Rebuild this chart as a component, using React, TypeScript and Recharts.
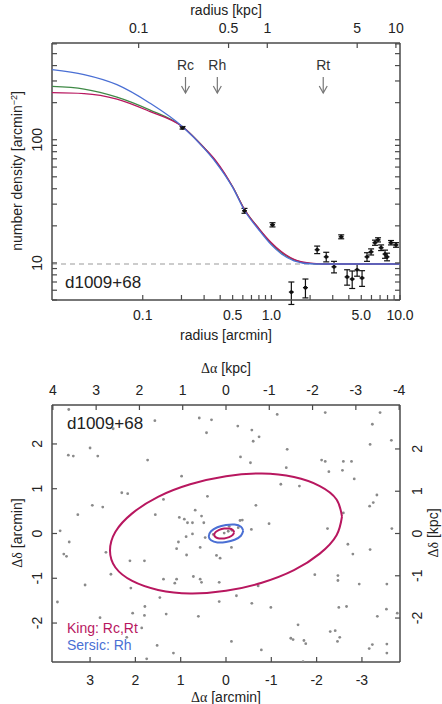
import React from 'react';
import { ComposedChart, Scatter, XAxis, YAxis, ErrorBar, ReferenceLine } from 'recharts';

const FONT = '"Liberation Sans", Arial, sans-serif';
const SERIF = '"Liberation Serif", "DejaVu Serif", serif';
const KING = '#b8175f';
const SERSIC = '#4a6fd4';
const EXPO = '#3f8a46';
const FRAME = '#4a4a4a';

// ---- radial profile (top panel), radius in arcmin ----
const profileRadius = [0.204, 0.618, 1.02, 1.43, 1.84, 2.27, 2.67, 3.07, 3.49, 3.88, 4.25, 4.64, 5.07, 5.54, 5.96, 6.39, 6.75, 7.13, 7.65, 7.93, 8.51, 9.31];
const profileDensity = [125, 26.5, 20.4, 5.8, 6.3, 12.8, 11.2, 9.3, 16.3, 7.7, 7.4, 8.8, 7.55, 11.2, 12.3, 14.6, 15.4, 13.3, 11.8, 11.2, 14.6, 14.0];
const profileError = [3, 1.2, 0.8, 1.2, 1.1, 0.9, 1.0, 1.0, 0.6, 1.1, 1.2, 1.0, 1.1, 0.9, 0.7, 0.7, 0.6, 0.7, 0.9, 0.8, 0.6, 0.6];

const modelRadius = [0.0197, 0.035, 0.063, 0.113, 0.205, 0.3, 0.372, 0.5, 0.62, 0.8, 1.0, 1.2, 1.5, 2.0, 2.5, 3.5, 5, 10];
const kingFit = [241, 237, 214, 170, 127, 86, 67, 41.5, 27, 19, 14.6, 12.3, 10.7, 9.95, 9.8, 9.8, 9.8, 9.8];
const expoFit = [271, 258, 222, 175, 127, 86, 66, 41.5, 27, 19, 14.3, 12.1, 10.6, 9.9, 9.8, 9.8, 9.8, 9.8];
const sersicFit = [371, 338, 280, 199, 127, 85, 65, 41, 26.5, 18.5, 14, 11.8, 10.4, 9.85, 9.8, 9.8, 9.8, 9.8];
const backgroundLevel = 9.8;

const markerNames = ['Rc', 'Rh', 'Rt'];
const markerRadius = [0.215, 0.38, 2.53];

const radiusDomain = [0.0197, 10];
const radiusKpcDomain = [0.0212, 10.76];
const densityDomain = [5, 610];

const radiusTicks = [0.1, 0.2, 0.3, 0.4, 0.5, 0.6, 0.7, 0.8, 0.9, 1, 2, 3, 4, 5, 6, 7, 8, 9, 10];
const radiusLabelAt = [0.1, 0.5, 1, 5, 10];
const radiusLabels = ['0.1', '0.5', '1.0', '5.0', '10.0'];
const kpcTicks = [0.1, 0.5, 1, 5, 10];
const kpcLabels = ['0.1', '0.5', '1', '5', '10'];
const densityTicks = [5, 6, 7, 8, 9, 10, 20, 30, 40, 50, 60, 70, 80, 90, 100, 200, 300, 400, 500, 600];
const densityLabelAt = [10, 100];
const densityLabels = ['10', '100'];

// ---- sky map (bottom panel), offsets in arcmin ----
const stars: number[][] = [
  [3.47, 2.77], [1.57, 2.52], [0.59, 2.58], [0.32, 2.54], [0.43, 2.25], [2.49, 2.34], [3.0, 1.91], [3.48, 1.75],
  [3.37, 1.73], [2.83, 1.73], [1.73, 1.64], [0.98, 1.28], [2.3, 0.91], [2.17, 0.89], [0.41, 0.83], [1.38, 0.76],
  [2.95, 0.63], [2.72, 0.59], [3.27, 0.42], [1.56, 0.42], [0.68, 0.52], [1.03, 0.36], [0.92, 0.32], [0.54, 0.39],
  [0.85, 0.24], [0.74, 0.24], [0.49, 0.24], [3.66, 0.06],
  [-1.13, 2.66], [-2.19, 2.7], [-3.4, 2.7], [-0.26, 2.4], [-0.57, 2.31], [-0.73, 2.16], [-0.6, 2.06], [-3.23, 2.44],
  [-3.65, 2.08], [-3.18, 1.99], [-1.35, 1.88], [-0.32, 1.71], [-0.54, 1.58], [-2.11, 1.64], [-2.19, 1.61], [-2.59, 1.61],
  [-2.77, 1.61], [-1.33, 1.47], [-2.27, 1.38], [-2.57, 1.41], [-2.83, 1.22], [-1.21, 1.1], [-1.62, 1.06], [-3.33, 0.86],
  [-3.25, 0.69], [-3.17, 0.61], [-0.66, 0.63], [-2.59, 0.46], [-0.36, 0.3], [-0.95, 0.22], [-0.56, 0.09], [-2.24, 0.11],
  [-3.66, 0.11],
  [3.46, -0.19], [3.58, -0.46], [3.52, -0.51], [2.65, -0.42], [2.12, -0.61], [1.8, -0.61], [2.54, -0.91], [3.11, -1.15],
  [2.1, -1.22], [3.72, -1.53], [1.46, -1.43], [1.79, -1.63], [2.06, -1.78], [1.8, -1.83], [1.32, -1.8], [2.78, -1.88],
  [0.61, -1.85], [1.86, -2.11], [2.19, -2.32], [1.52, -2.5], [1.16, -2.67], [1.75, -2.8], [1.05, -0.19], [0.88, -0.07],
  [0.74, -0.01], [1.09, -0.34], [0.87, -0.48], [0.57, -0.31], [0.46, -0.09], [0.21, -0.49], [0.13, -0.55], [1.38, -1.02],
  [1.09, -1.02], [1.13, -1.11], [0.72, -0.96], [0.57, -1.02], [0.54, -1.09], [0.15, -1.09], [0.15, -1.52],
  [-0.12, -0.31], [-2.69, -0.24], [-2.8, -0.46], [-3.18, -0.36], [-1.96, -0.92], [-2.47, -0.94], [-2.47, -1.05], [-2.94, -1.13],
  [-3.55, -1.13], [-0.71, -1.17], [-0.23, -1.39], [-0.57, -1.56], [-0.99, -1.65], [-2.49, -1.65], [-2.66, -1.63], [-3.54, -1.69],
  [-3.34, -1.85], [-3.78, -1.78], [-1.59, -2.04], [-2.3, -2.19], [-2.41, -2.17], [-2.51, -2.32], [-2.46, -2.41], [-1.43, -2.34],
  [-1.48, -2.37], [-1.72, -2.39], [-1.76, -2.46], [-0.12, -2.41], [-0.78, -2.6], [-3.23, -2.48], [-3.16, -2.57], [-3.55, -2.47],
  [-3.55, -2.67], [-1.7, -2.86],
  [0.04, 0.01], [-0.05, 0.05], [-0.13, 0.07], [0.28, -0.02], [-0.27, 0.13], [-0.07, 0.16], [-0.31, 0.29],
];

const tidalEllipse: number[][] = [
  [-2.56, 0.38], [-2.44, -0.04], [-2.07, -0.45], [-1.5, -0.82], [-0.79, -1.1], [0, -1.28], [0.79, -1.34], [1.5, -1.26],
  [2.07, -1.06], [2.44, -0.76], [2.56, -0.38], [2.44, 0.04], [2.07, 0.45], [1.5, 0.82], [0.79, 1.1], [0, 1.28],
  [-0.79, 1.34], [-1.5, 1.26], [-2.07, 1.06], [-2.44, 0.76], [-2.56, 0.38],
];
const halfLightEllipse: number[][] = [
  [-0.38, 0.06], [-0.33, -0.05], [-0.19, -0.14], [0, -0.19], [0.19, -0.2], [0.33, -0.15], [0.38, -0.06],
  [0.33, 0.05], [0.19, 0.14], [0, 0.19], [-0.19, 0.2], [-0.33, 0.15], [-0.38, 0.06],
];
const coreEllipse: number[][] = [
  [-0.18, 0.03], [-0.15, -0.03], [-0.07, -0.08], [0.04, -0.11], [0.15, -0.11], [0.23, -0.08], [0.26, -0.03],
  [0.23, 0.03], [0.15, 0.08], [0.04, 0.11], [-0.07, 0.11], [-0.15, 0.08], [-0.18, 0.03],
];

const skyXDomain = [-3.84, 3.84];
const skyXKpcDomain = [-4.02, 4.02];
const skyYDomain = [-2.87, 2.87];
const skyYKpcDomain = [-3.04, 3.04];
const skyXTicks = [3, 2, 1, 0, -1, -2, -3];
const skyXKpcTicks = [4, 3, 2, 1, 0, -1, -2, -3, -4];
const skyYTicks = [-2, -1, 0, 1, 2];
const skyYKpcTicks = [-2, -1, 0, 1, 2];

const toXY = (pts: number[][]) => pts.map(([x, y]) => ({ x, y }));

const NoShape = () => <g />;

const StarDot = (p: any) => <circle cx={p.cx} cy={p.cy} r={1.4} fill="#8a8a8a" />;

const ProfilePoint = (p: any) => (
  <g stroke="#111" strokeWidth={1.3}>
    <line x1={p.cx - 2.5} x2={p.cx + 2.5} y1={p.cy} y2={p.cy} />
    <circle cx={p.cx} cy={p.cy} r={1.2} fill="#111" />
  </g>
);

const RadiusMarker = (p: any) => (
  <g>
    <text x={p.cx} y={p.cy + 27} textAnchor="middle" fontSize={14} fill="#333" fontFamily={FONT}>
      {p.payload.name}
    </text>
    <line x1={p.cx} y1={p.cy + 34} x2={p.cx} y2={p.cy + 50} stroke="#777" strokeWidth={1.2} />
    <polyline
      points={`${p.cx - 4},${p.cy + 43} ${p.cx},${p.cy + 50} ${p.cx + 4},${p.cy + 43}`}
      fill="none"
      stroke="#777"
      strokeWidth={1.2}
    />
  </g>
);

// ticks point inward; y-axis labels sit parallel to the axis (gap = label centre distance)
const makeTick = (side: string, labelAt: number[], labels: string[], gap: number) => (props: any) => {
  const { x, y, payload } = props;
  const k = labelAt.findIndex((v) => Math.abs(v - payload.value) < 1e-9);
  const label = k >= 0 ? labels[k] : '';
  const len = 5;
  if (side === 'bottom' || side === 'top') {
    const dir = side === 'bottom' ? -1 : 1;
    const ty = side === 'bottom' ? y + gap : y - gap;
    return (
      <g>
        <line x1={x} x2={x} y1={y} y2={y + dir * len} stroke={FRAME} strokeWidth={1.2} />
        {label && (
          <text x={x} y={ty} fontSize={14} fill="#222" fontFamily={FONT} textAnchor="middle">
            {label}
          </text>
        )}
      </g>
    );
  }
  const dir = side === 'left' ? 1 : -1;
  const cx = side === 'left' ? x - gap : x + gap;
  return (
    <g>
      <line x1={x} x2={x + dir * len} y1={y} y2={y} stroke={FRAME} strokeWidth={1.2} />
      {label && (
        <g style={{ transform: `translate(${cx}px, ${y}px) rotate(-90deg)` }}>
          <text x={0} y={0} dy="0.36em" fontSize={14} fill="#222" fontFamily={FONT} textAnchor="middle">
            {label}
          </text>
        </g>
      )}
    </g>
  );
};

const Txt = ({ x, y, rot = 0, size = 14, color = '#222', left = false, children }: any) => (
  <div
    style={{
      position: 'absolute',
      left: x,
      top: y,
      transform: `translate(${left ? '0' : '-50%'}, -50%) rotate(${rot}deg)`,
      fontSize: size,
      color,
      whiteSpace: 'nowrap',
      fontFamily: FONT,
      lineHeight: 1,
    }}
  >
    {children}
  </div>
);

const Greek = ({ children }: any) => <span style={{ fontFamily: SERIF }}>{children}</span>;

export default function App() {
  const points = profileRadius.map((x, i) => ({ x, y: profileDensity[i], err: profileError[i] }));
  const king = modelRadius.map((x, i) => ({ x, y: kingFit[i] }));
  const expo = modelRadius.map((x, i) => ({ x, y: expoFit[i] }));
  const sersic = modelRadius.map((x, i) => ({ x, y: sersicFit[i] }));
  const markers = markerRadius.map((x, i) => ({ x, y: densityDomain[1], name: markerNames[i] }));
  // invisible anchors so the secondary (kpc) axes get drawn
  const kpcAnchor = kpcTicks.map((x) => ({ x, y: backgroundLevel }));
  const skyKpcAnchor = skyXKpcTicks.map((x) => ({ x, y: 0 }));
  const axisLine = { stroke: FRAME, strokeWidth: 1.5 };

  return (
    <div style={{ position: 'absolute', left: 0, top: 0, width: 442, height: 704, fontFamily: FONT }}>
      <div style={{ position: 'absolute', left: 0, top: 0 }}>
        <ComposedChart width={442} height={350} margin={{ top: 23, right: 22, bottom: 20, left: 22 }}>
          <XAxis
            dataKey="x"
            type="number"
            scale="log"
            domain={radiusDomain}
            allowDataOverflow
            ticks={radiusTicks}
            interval={0}
            height={30}
            tickSize={0}
            tickMargin={0}
            tickLine={false}
            axisLine={axisLine}
            tick={makeTick('bottom', radiusLabelAt, radiusLabels, 20)}
          />
          <XAxis
            xAxisId="kpc"
            dataKey="x"
            orientation="top"
            type="number"
            scale="log"
            domain={radiusKpcDomain}
            allowDataOverflow
            ticks={kpcTicks}
            interval={0}
            height={20}
            tickSize={0}
            tickMargin={0}
            tickLine={false}
            axisLine={axisLine}
            tick={makeTick('top', kpcTicks, kpcLabels, 10.5)}
          />
          <YAxis
            dataKey="y"
            type="number"
            scale="log"
            domain={densityDomain}
            allowDataOverflow
            ticks={densityTicks}
            interval={0}
            width={30}
            tickSize={0}
            tickMargin={0}
            tickLine={false}
            axisLine={axisLine}
            tick={makeTick('left', densityLabelAt, densityLabels, 15)}
          />
          <YAxis
            yAxisId="r"
            dataKey="y"
            orientation="right"
            type="number"
            scale="log"
            domain={densityDomain}
            allowDataOverflow
            ticks={densityTicks}
            interval={0}
            width={20}
            tickSize={0}
            tickMargin={0}
            tickLine={false}
            axisLine={axisLine}
            tick={makeTick('right', [], [], 0)}
          />
          <ReferenceLine y={backgroundLevel} stroke="#9a9a9a" strokeDasharray="5 4" strokeWidth={1.2} />
          <Scatter xAxisId="kpc" yAxisId="r" data={kpcAnchor} shape={NoShape} isAnimationActive={false} />
          <Scatter data={expo} line={{ stroke: EXPO, strokeWidth: 1.3 }} lineJointType="monotoneX" shape={NoShape} isAnimationActive={false} />
          <Scatter data={king} line={{ stroke: KING, strokeWidth: 1.3 }} lineJointType="monotoneX" shape={NoShape} isAnimationActive={false} />
          <Scatter data={sersic} line={{ stroke: SERSIC, strokeWidth: 1.3 }} lineJointType="monotoneX" shape={NoShape} isAnimationActive={false} />
          <Scatter data={points} shape={ProfilePoint} isAnimationActive={false}>
            <ErrorBar dataKey="err" direction="y" width={3} stroke="#111" strokeWidth={1.2} />
          </Scatter>
          <Scatter data={markers} shape={RadiusMarker} isAnimationActive={false} />
        </ComposedChart>
      </div>

      <div style={{ position: 'absolute', left: 0, top: 350 }}>
        <ComposedChart width={442} height={354} margin={{ top: 35, right: 22, bottom: 12, left: 22 }}>
          <XAxis
            dataKey="x"
            type="number"
            domain={skyXDomain}
            allowDataOverflow
            reversed
            ticks={skyXTicks}
            interval={0}
            height={30}
            tickSize={0}
            tickMargin={0}
            tickLine={false}
            axisLine={axisLine}
            tick={makeTick('bottom', skyXTicks, skyXTicks.map(String), 23.4)}
          />
          <XAxis
            xAxisId="kpc"
            dataKey="x"
            orientation="top"
            type="number"
            domain={skyXKpcDomain}
            allowDataOverflow
            reversed
            ticks={skyXKpcTicks}
            interval={0}
            height={20}
            tickSize={0}
            tickMargin={0}
            tickLine={false}
            axisLine={axisLine}
            tick={makeTick('top', skyXKpcTicks, skyXKpcTicks.map(String), 9.6)}
          />
          <YAxis
            dataKey="y"
            type="number"
            domain={skyYDomain}
            allowDataOverflow
            ticks={skyYTicks}
            interval={0}
            width={30}
            tickSize={0}
            tickMargin={0}
            tickLine={false}
            axisLine={axisLine}
            tick={makeTick('left', skyYTicks, skyYTicks.map(String), 15)}
          />
          <YAxis
            yAxisId="kpc"
            dataKey="y"
            orientation="right"
            type="number"
            domain={skyYKpcDomain}
            allowDataOverflow
            ticks={skyYKpcTicks}
            interval={0}
            width={20}
            tickSize={0}
            tickMargin={0}
            tickLine={false}
            axisLine={axisLine}
            tick={makeTick('right', skyYKpcTicks, skyYKpcTicks.map(String), 17)}
          />
          <Scatter xAxisId="kpc" yAxisId="kpc" data={skyKpcAnchor} shape={NoShape} isAnimationActive={false} />
          <Scatter data={toXY(stars)} shape={StarDot} isAnimationActive={false} />
          <Scatter data={toXY(tidalEllipse)} line={{ stroke: KING, strokeWidth: 2 }} lineJointType="natural" shape={NoShape} isAnimationActive={false} />
          <Scatter data={toXY(halfLightEllipse)} line={{ stroke: SERSIC, strokeWidth: 2 }} lineJointType="natural" shape={NoShape} isAnimationActive={false} />
          <Scatter data={toXY(coreEllipse)} line={{ stroke: KING, strokeWidth: 2 }} lineJointType="natural" shape={NoShape} isAnimationActive={false} />
        </ComposedChart>
      </div>

      <Txt x={226} y={10}>radius [kpc]</Txt>
      <Txt x={226} y={335}>radius [arcmin]</Txt>
      <Txt x={17} y={171} rot={-90}>
        number density [arcmin<sup style={{ fontSize: 9, verticalAlign: 5 }}>−2</sup>]
      </Txt>
      <Txt x={65} y={282} size={17} left>d1009+68</Txt>

      <Txt x={226} y={368}><Greek>Δα</Greek> [kpc]</Txt>
      <Txt x={226} y={697}><Greek>Δα</Greek> [arcmin]</Txt>
      <Txt x={17} y={533} rot={-90}><Greek>Δδ</Greek> [arcmin]</Txt>
      <Txt x={433} y={533} rot={-90}><Greek>Δδ</Greek> [kpc]</Txt>
      <Txt x={67} y={423} size={17} left>d1009+68</Txt>
      <Txt x={67} y={628} color={KING} left>King: Rc,Rt</Txt>
      <Txt x={67} y={645} color={SERSIC} left>Sersic: Rh</Txt>
    </div>
  );
}
